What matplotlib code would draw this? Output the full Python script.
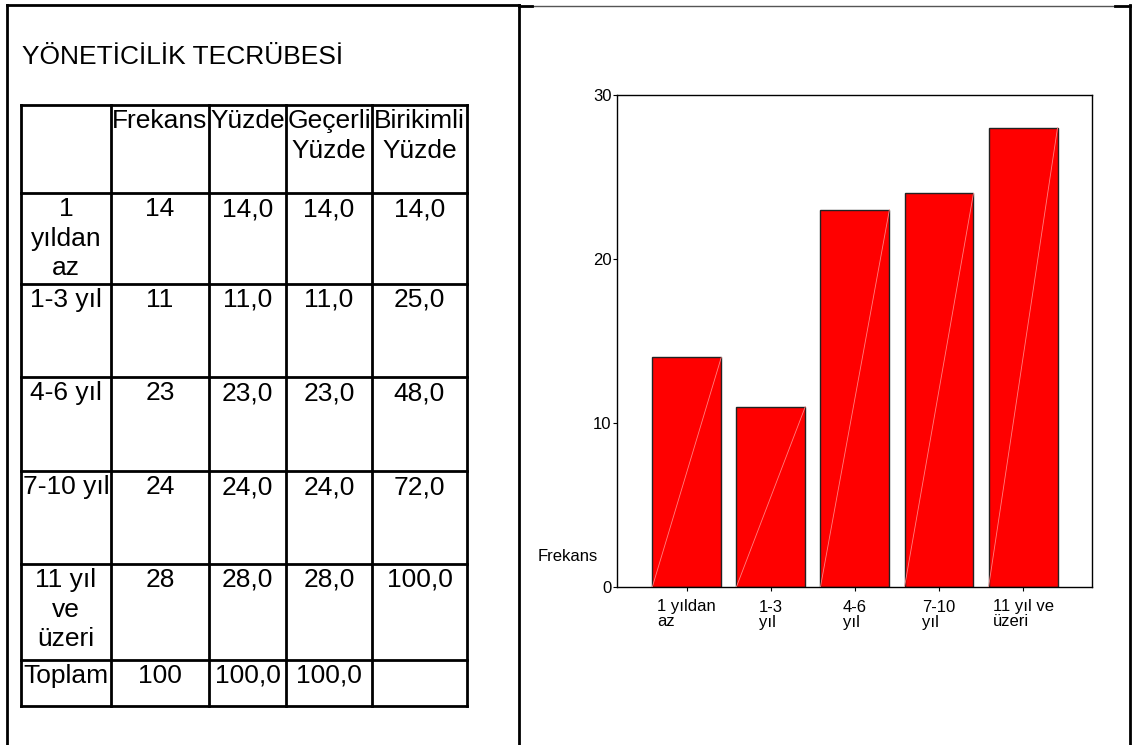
import matplotlib
matplotlib.use("Agg")
import matplotlib.pyplot as plt

plt.rcParams['font.family'] = ['Liberation Sans', 'DejaVu Sans']

# tablo verisi
satirlar = ["1\nyıldan\naz", "1-3 yıl", "4-6 yıl", "7-10 yıl", "11 yıl\nve\nüzeri", "Toplam"]
frekans = ["14", "11", "23", "24", "28", "100"]
yuzde = ["14,0", "11,0", "23,0", "24,0", "28,0", "100,0"]
gecerli = ["14,0", "11,0", "23,0", "24,0", "28,0", "100,0"]
birikimli = ["14,0", "25,0", "48,0", "72,0", "100,0", ""]
basliklar = ["", "Frekans", "Yüzde", "Geçerli\nYüzde", "Birikimli\nYüzde"]

# grafik verisi
kategoriler = ["1 yıldan\naz", "1-3\nyıl", "4-6\nyıl", "7-10\nyıl", "11 yıl ve\nüzeri"]
frekanslar = [14, 11, 23, 24, 28]

W, H = 1134, 745
fig = plt.figure(figsize=(W / 100, H / 100), dpi=100)

# sayfa / tablo icin piksel koordinatli eksen
bg = fig.add_axes([0, 0, 1, 1])
bg.set_xlim(0, W)
bg.set_ylim(H, 0)
bg.axis('off')

lw = 2.0
bg.plot([7, 7], [5, H], color='black', lw=lw)
bg.plot([7, 519], [5, 5], color='black', lw=lw)
bg.plot([519, 519], [5, H], color='black', lw=lw)
bg.plot([1130, 1130], [5, H], color='black', lw=lw)
bg.plot([519, 1130], [6, 6], color='#555555', lw=1.0)
bg.plot([519, 532], [6, 6], color='black', lw=lw)
bg.plot([1115, 1130], [6, 6], color='black', lw=lw)

bg.text(22, 57, "YÖNETİCİLİK TECRÜBESİ", fontsize=19, ha='left', va='center')

sutunlar = [21, 111, 209, 286, 372, 467]
satir_sinir = [105, 193, 284, 377, 471, 564, 660, 706]

for x in sutunlar:
    bg.plot([x, x], [satir_sinir[0], satir_sinir[-1]], color='black', lw=lw)
for y in satir_sinir:
    bg.plot([sutunlar[0], sutunlar[-1]], [y, y], color='black', lw=lw)

def hucre(col, row, txt):
    xc = (sutunlar[col] + sutunlar[col + 1]) / 2
    bg.text(xc, satir_sinir[row] + 4, txt, fontsize=19, ha='center', va='top',
            linespacing=1.3)

for j, b in enumerate(basliklar):
    hucre(j, 0, b)
for i in range(len(satirlar)):
    hucre(0, i + 1, satirlar[i])
    hucre(1, i + 1, frekans[i])
    hucre(2, i + 1, yuzde[i])
    hucre(3, i + 1, gecerli[i])
    hucre(4, i + 1, birikimli[i])

# cubuk grafik
ax = fig.add_axes([617 / W, 1 - 587 / H, (1092 - 617) / W, (587 - 95) / H])
x = list(range(len(kategoriler)))
bw = 0.82
ax.bar(x, frekanslar, width=bw, color='#ff0000', edgecolor='#222222', linewidth=1.0, zorder=2)
for xi, v in zip(x, frekanslar):
    ax.plot([xi - bw / 2, xi + bw / 2], [0, v], color='#ff8080', lw=0.6, zorder=3)

ax.set_xlim(-0.83, 4.82)
ax.set_ylim(0, 30)
ax.set_yticks([0, 10, 20, 30])
ax.set_xticks(x)
ax.set_xticklabels(kategoriler, fontsize=12, ha='center', multialignment='left', linespacing=1.0)
ax.tick_params(axis='y', labelsize=12, length=3, pad=1)
ax.tick_params(axis='x', length=3, pad=6)
for s in ax.spines.values():
    s.set_linewidth(1.0)
    s.set_color('black')
ax.set_ylabel("Frekans", fontsize=12, rotation=0, ha='left', va='center')
ax.yaxis.set_label_coords(-0.168, 0.061)

fig.savefig("out.png", dpi=100)
